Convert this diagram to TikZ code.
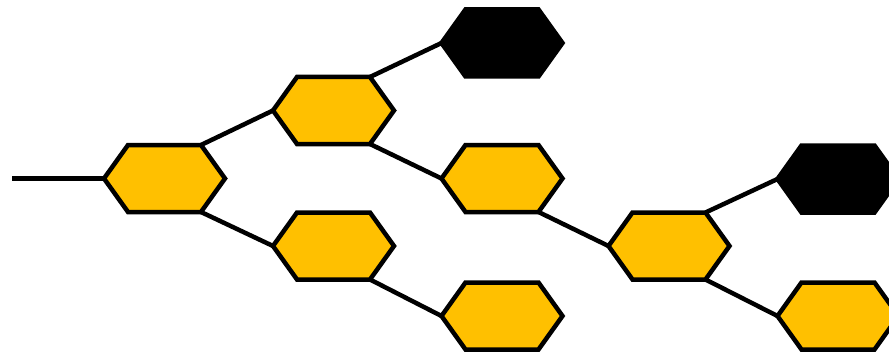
\documentclass[tikz,border=0pt]{standalone}
\definecolor{hexyellow}{HTML}{FFC000}
\tikzset{
  hex/.pic={
    \path[pic actions] (-60.5pt,0) coordinate(-w) -- (-36.5pt,33.5pt) coordinate(-nw)
      -- (36.5pt,33.5pt) coordinate(-ne) -- (60.5pt,0) coordinate(-e)
      -- (36.5pt,-33.5pt) coordinate(-se) -- (-36.5pt,-33.5pt) coordinate(-sw) -- cycle;
  },
  yhex/.style={draw=black,fill=hexyellow,line width=4.5pt},
  bhex/.style={draw=black,fill=black,line width=4.5pt},
  link/.style={draw=black,line width=4.5pt}
}
\begin{document}
\begin{tikzpicture}[x=1pt,y=-1pt]
\useasboundingbox (0,0) rectangle (889,353);
\coordinate (start) at (12,178.5);
\pic[yhex] (r) at (164.5,178.5) {hex};
\pic[yhex] (a) at (333.5,110.5) {hex};
\pic[bhex] (b1) at (502,43) {hex};
\pic[yhex] (c) at (502,178.5) {hex};
\pic[yhex] (d) at (333.5,246) {hex};
\pic[yhex] (e) at (502,316) {hex};
\pic[yhex] (f) at (669,246) {hex};
\pic[bhex] (b2) at (838,179) {hex};
\pic[yhex] (g) at (838,316) {hex};
\draw[link] (start) -- (r-w);
\draw[link] (r-ne) -- (a-w);
\draw[link] (r-se) -- (d-w);
\draw[link] (a-ne) -- (b1-w);
\draw[link] (a-se) -- (c-w);
\draw[link] (d-se) -- (e-w);
\draw[link] (c-se) -- (f-w);
\draw[link] (f-ne) -- (b2-w);
\draw[link] (f-se) -- (g-w);
\end{tikzpicture}
\end{document}
